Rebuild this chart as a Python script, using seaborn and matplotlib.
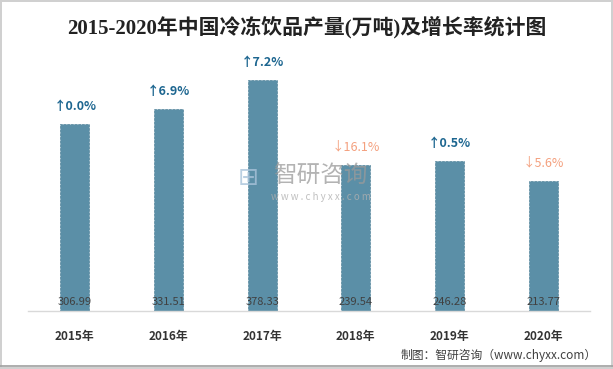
import pandas as pd
import numpy as np
import matplotlib.pyplot as plt
import seaborn as sns

# ==========================================
# 資料
# ==========================================
years = ['2015年', '2016年', '2017年', '2018年', '2019年', '2020年']
output = [306.99, 331.51, 378.33, 239.54, 246.28, 213.77]
growth = [0.0, 6.9, 7.2, -16.1, 0.5, -5.6]

TITLE = '2015-2020年中国冷冻饮品产量(万吨)及增长率统计图'
SOURCE = '制图：智研咨询（www.chyxx.com）'

BAR_COLOR = '#5b8fa7'
UP_COLOR = '#1d6690'
DOWN_COLOR = '#f4a07e'

sns.set_style('white')
plt.rcParams['font.family'] = ['Noto Sans CJK SC', 'DejaVu Sans']

df = pd.DataFrame({'year': years, 'output': output, 'growth': growth})

fig = plt.figure(figsize=(6.13, 3.69), dpi=100)
fig.patch.set_edgecolor('#d0d0d0')
fig.patch.set_linewidth(1.5)
ax = fig.add_axes([28 / 613, 58 / 369, 562 / 613, 256 / 369])

sns.barplot(data=df, x='year', y='output', color=BAR_COLOR, width=0.31,
            saturation=1, edgecolor='#54849b', linewidth=0.5, linestyle='--', ax=ax)

ax.set_xlim(-0.5, 5.5)
ax.set_ylim(0, 420)
ax.set_xlabel('')
ax.set_ylabel('')
ax.set_yticks([])
for s in ['top', 'right', 'left']:
    ax.spines[s].set_visible(False)
ax.spines['bottom'].set_color('#d9d9d9')
ax.spines['bottom'].set_linewidth(1.0)
ax.tick_params(axis='x', length=0, pad=14)
for lbl in ax.get_xticklabels():
    lbl.set_fontsize(8.5)
    lbl.set_fontweight('bold')
    lbl.set_color('#333333')

# 數值與增長率標籤
for i, (v, g) in enumerate(zip(output, growth)):
    ax.text(i, 14, f'{v:.2f}', ha='center', va='center', fontsize=8,
            color='#404040')
    if g >= 0:
        ax.text(i, v + 29, f'↑{g:.1f}%', ha='center', va='center', fontsize=9,
                fontweight='bold', color=UP_COLOR, clip_on=False)
    else:
        ax.text(i, v + 29, f'↓{abs(g):.1f}%', ha='center', va='center', fontsize=9,
                color=DOWN_COLOR, clip_on=False)

# 標題
fig.text(0.5, 1 - 27 / 369, TITLE, ha='center', va='center', fontsize=15,
         fontweight='bold', color='#222222',
         family=['Liberation Serif', 'Noto Sans CJK SC'])

# 浮水印
fig.text(320 / 613, 1 - 176 / 369, '智研咨询', ha='center', va='center', fontsize=17,
         color='#9a9a9a', alpha=0.75)
fig.text(321 / 613, 1 - 197 / 369, 'w w w . c h y x x . c o m', ha='center', va='center',
         fontsize=7, color='#b0b0b0', alpha=0.8)
fig.text(248 / 613, 1 - 178 / 369, '⊞', ha='center', va='center', fontsize=18,
         color='#a9c3da', alpha=0.8, family=['DejaVu Sans'])

# 來源
fig.text(597 / 613, 1 - 355 / 369, SOURCE, ha='right', va='center', fontsize=8.5,
         color='#404040')
fig.add_artist(plt.Line2D([0, 1], [1 - 366 / 369, 1 - 366 / 369], color='#a0a0a0',
                          linewidth=1.2, transform=fig.transFigure))

plt.savefig('out.png', dpi=100)
